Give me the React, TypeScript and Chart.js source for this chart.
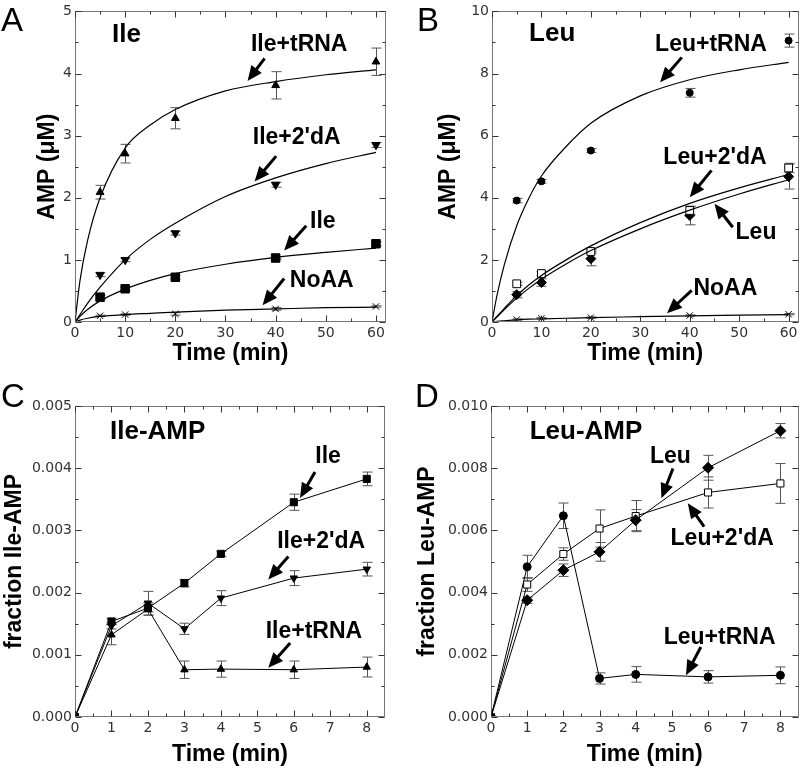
import React, { useEffect, useRef } from 'react';
import { Chart, registerables } from 'chart.js';
Chart.register(...registerables);

// ---------- Panel A (Ile, AMP µM vs time) ----------
const timeA = [5, 10, 20, 40, 60];
const ileTrnaA = [2.09, 2.71, 3.28, 3.81, 4.19];
const ileTrnaAErr = [0.11, 0.15, 0.17, 0.22, 0.22];
const ile2dAA = [0.76, 1.0, 1.43, 2.21, 2.85];
const ile2dAAErr = [0.03, 0.03, 0.03, 0.04, 0.04];
const ileA = [0.4, 0.535, 0.72, 1.03, 1.26];
const ileAErr = [0.03, 0.03, 0.03, 0.02, 0.03];
const noaaA = [0.1, 0.12, 0.13, 0.21, 0.25];
const noaaAErr = [0.01, 0.01, 0.02, 0.02, 0.01];
const fitTimeA = [0, 1, 2.5, 5, 10, 15, 20, 30, 40, 50, 60];
const fitIleTrnaA = [0, 0.67, 1.31, 2.0, 2.8, 3.17, 3.42, 3.72, 3.87, 3.98, 4.06];
const fitIle2dAA = [0, 0.12, 0.3, 0.56, 1.0, 1.33, 1.59, 2.02, 2.32, 2.55, 2.73];
const fitIleA = [0, 0.09, 0.2, 0.34, 0.53, 0.67, 0.78, 0.93, 1.04, 1.12, 1.19];
const fitNoaaA = [0, 0.03, 0.06, 0.09, 0.12, 0.14, 0.16, 0.19, 0.21, 0.23, 0.24];
const xTicksA = [0, 10, 20, 30, 40, 50, 60];
const yTicksA = [0, 1, 2, 3, 4, 5];

// ---------- Panel B (Leu, AMP µM vs time) ----------
const timeB = [5, 10, 20, 40, 60];
const leuTrnaB = [3.91, 4.53, 5.52, 7.38, 9.06];
const leuTrnaBErr = [0.07, 0.06, 0.06, 0.14, 0.21];
const leu2dAB = [1.23, 1.56, 2.27, 3.59, 4.96];
const leu2dABErr = [0.05, 0.06, 0.06, 0.12, 0.15];
const leuB = [0.88, 1.27, 2.04, 3.43, 4.68];
const leuBErr = [0.1, 0.12, 0.23, 0.3, 0.4];
const noaaB = [0.08, 0.12, 0.14, 0.21, 0.25];
const noaaBErr = [0.02, 0.02, 0.02, 0.02, 0.02];
const fitTimeB = [0, 1, 2.5, 5, 7.5, 10, 15, 20, 30, 40, 50, 60];
const fitLeuTrnaB = [0, 0.85, 1.85, 3.1, 4.0, 4.7, 5.65, 6.4, 7.28, 7.8, 8.12, 8.36];
const fitLeu2dAB = [0, 0.18, 0.44, 0.85, 1.2, 1.5, 2.0, 2.45, 3.2, 3.82, 4.32, 4.75];
const fitLeuB = [0, 0.16, 0.4, 0.77, 1.09, 1.38, 1.87, 2.3, 3.0, 3.6, 4.12, 4.58];
const fitNoaaB = [0, 0.02, 0.04, 0.07, 0.09, 0.1, 0.12, 0.14, 0.17, 0.2, 0.22, 0.24];
const xTicksB = [0, 10, 20, 30, 40, 50, 60];
const yTicksB = [0, 2, 4, 6, 8, 10];

// ---------- Panel C (Ile-AMP fraction) ----------
const timeC = [0, 1, 2, 3, 4, 6, 8];
const ileC = [0, 0.001536, 0.00175, 0.002152, 0.002623, 0.003453, 0.003828];
const ileCErr = [0, 0.00005, 0.00006, 0.00006, 0.00004, 0.00013, 0.00011];
const ile2dAC = [0, 0.001466, 0.00183, 0.001418, 0.001911, 0.002233, 0.002377];
const ile2dACErr = [0, 0.00005, 0.00019, 0.00009, 0.00012, 0.00012, 0.00011];
const ileTrnaC = [0, 0.001322, 0.001735, 0.00076, 0.00077, 0.00076, 0.000803];
const ileTrnaCErr = [0, 0.00016, 0.0001, 0.00014, 0.00013, 0.00014, 0.00016];
const xTicksC = [0, 1, 2, 3, 4, 5, 6, 7, 8];
const yTicksC = [0, 0.001, 0.002, 0.003, 0.004, 0.005];

// ---------- Panel D (Leu-AMP fraction) ----------
const timeD = [0, 1, 2, 3, 4, 6, 8];
const leuD = [0, 0.003756, 0.00472, 0.00531, 0.00633, 0.008014, 0.009205];
const leuDErr = [0, 0.0001, 0.0002, 0.0003, 0.00034, 0.0004, 0.00023];
const leu2dAD = [0, 0.00426, 0.00524, 0.00606, 0.00646, 0.00722, 0.00751];
const leu2dADErr = [0, 0.00022, 0.0002, 0.0006, 0.0005, 0.0005, 0.00064];
const leuTrnaD = [0, 0.00483, 0.00647, 0.00124, 0.00137, 0.00129, 0.00134];
const leuTrnaDErr = [0, 0.00037, 0.00041, 0.00018, 0.00025, 0.0002, 0.00027];
const xTicksD = [0, 1, 2, 3, 4, 5, 6, 7, 8];
const yTicksD = [0, 0.002, 0.004, 0.006, 0.008, 0.01];

type Ann = { text: string; at: [number, number]; tail: [number, number]; head: [number, number] };

const annA: Ann[] = [
  { text: 'Ile+tRNA', at: [44.7, 4.36], tail: [37.8, 4.245], head: [34.4, 3.88] },
  { text: "Ile+2'dA", at: [44.2, 2.87], tail: [40.1, 2.67], head: [35.8, 2.26] },
  { text: 'Ile', at: [49.4, 1.52], tail: [46.1, 1.55], head: [41.7, 1.15] },
  { text: 'NoAA', at: [49.2, 0.56], tail: [41.7, 0.7], head: [37.4, 0.27] },
];
const annB: Ann[] = [
  { text: 'Leu+tRNA', at: [44.3, 8.74], tail: [38.4, 8.52], head: [34.0, 7.72] },
  { text: "Leu+2'dA", at: [45.1, 5.09], tail: [44.4, 4.88], head: [40.0, 4.02] },
  { text: 'Leu', at: [53.4, 2.68], tail: [48.7, 3.05], head: [45.0, 3.81] },
  { text: 'NoAA', at: [47.2, 0.86], tail: [40.4, 1.02], head: [35.4, 0.28] },
];
const annC: Ann[] = [
  { text: 'Ile', at: [6.94, 0.00408], tail: [6.58, 0.00394], head: [6.17, 0.00352] },
  { text: "Ile+2'dA", at: [6.75, 0.00271], tail: [5.85, 0.00258], head: [5.3, 0.00221] },
  { text: 'Ile+tRNA', at: [6.55, 0.00127], tail: [5.9, 0.00119], head: [5.3, 0.00079] },
];
const annD: Ann[] = [
  { text: 'Leu', at: [4.96, 0.00816], tail: [5.03, 0.00799], head: [4.71, 0.00703] },
  { text: "Leu+2'dA", at: [6.39, 0.00553], tail: [5.89, 0.00612], head: [5.44, 0.00687] },
  { text: 'Leu+tRNA', at: [6.32, 0.00236], tail: [5.8, 0.00225], head: [5.39, 0.00134] },
];

const pts = (xs: number[], ys: number[]) => xs.map((x, i) => ({ x, y: ys[i] }));

const fit = (xs: number[], ys: number[]) => ({
  data: pts(xs, ys), showLine: true, pointRadius: 0, borderColor: '#000', borderWidth: 1.2,
  cubicInterpolationMode: 'monotone', fill: false,
});
const marks = (xs: number[], ys: number[], errs: number[], style: string, r: number, opts: any = {}) => ({
  data: pts(xs, ys), errors: errs, showLine: false, pointStyle: style, pointRadius: r,
  pointBackgroundColor: '#000', pointBorderColor: '#000', pointBorderWidth: 1, ...opts,
});
const series = (xs: number[], ys: number[], errs: number[], style: string, r: number, opts: any = {}) => ({
  ...marks(xs, ys, errs, style, r, opts), showLine: true, borderColor: '#000', borderWidth: 1, tension: 0,
});

const FONT_B = "'Liberation Sans', Arial, sans-serif";

const panels = [
  {
    key: 'A', letter: 'A', letterPos: [1, 31], title: 'Ile', titleAt: [7.4, 4.51],
    left: 0, top: 0, width: 400, height: 380,
    padding: { left: 0, right: 14, top: 10, bottom: 0 }, yWidth: 75, xHeight: 58,
    xMax: 62, yMax: 5, xTicks: xTicksA, yTicks: yTicksA, yDec: 0,
    yTitle: 'AMP (μM)', yTitlePad: 36, xTitlePad: 15, ann: annA,
    datasets: [
      fit(fitTimeA, fitIleTrnaA), fit(fitTimeA, fitIle2dAA), fit(fitTimeA, fitIleA), fit(fitTimeA, fitNoaaA),
      marks(timeA, ileTrnaA, ileTrnaAErr, 'triangle', 4.5),
      marks(timeA, ile2dAA, ile2dAAErr, 'triangle', 4.8, { rotation: 180 }),
      marks(timeA, ileA, ileAErr, 'rect', 6),
      marks(timeA, noaaA, noaaAErr, 'crossRot', 4.5),
    ],
  },
  {
    key: 'B', letter: 'B', letterPos: [17, 31], title: 'Leu', titleAt: [7.5, 9.06],
    left: 400, top: 0, width: 405, height: 380,
    padding: { left: 0, right: 2, top: 11, bottom: 0 }, yWidth: 92, xHeight: 58,
    xMax: 62, yMax: 10, xTicks: xTicksB, yTicks: yTicksB, yDec: 0,
    yTitle: 'AMP (μM)', yTitlePad: 37.5, xTitlePad: 15, ann: annB,
    datasets: [
      fit(fitTimeB, fitLeuTrnaB), fit(fitTimeB, fitLeu2dAB), fit(fitTimeB, fitLeuB), fit(fitTimeB, fitNoaaB),
      marks(timeB, leuTrnaB, leuTrnaBErr, 'circle', 3.5),
      marks(timeB, leu2dAB, leu2dABErr, 'rect', 5.5, { pointBackgroundColor: '#fff' }),
      marks(timeB, leuB, leuBErr, 'rectRot', 5),
      marks(timeB, noaaB, noaaBErr, 'crossRot', 4.5),
    ],
  },
  {
    key: 'C', letter: 'C', letterPos: [1, 27], title: 'Ile-AMP', titleAt: [0.96, 0.004465],
    left: 0, top: 380, width: 400, height: 389,
    padding: { left: 0, right: 15, top: 26, bottom: 0 }, yWidth: 75, xHeight: 52,
    xMax: 8.5, yMax: 0.005, xTicks: xTicksC, yTicks: yTicksC, yDec: 3,
    yTitle: 'fraction Ile-AMP', yTitlePad: 3.5, xTitlePad: 2.5, ann: annC,
    datasets: [
      series(timeC, ileC, ileCErr, 'rect', 5),
      series(timeC, ile2dAC, ile2dACErr, 'triangle', 4.3, { rotation: 180 }),
      series(timeC, ileTrnaC, ileTrnaCErr, 'triangle', 4.3),
    ],
  },
  {
    key: 'D', letter: 'D', letterPos: [15, 27], title: 'Leu-AMP', titleAt: [1.07, 0.00893],
    left: 400, top: 380, width: 405, height: 389,
    padding: { left: 0, right: 4, top: 26, bottom: 0 }, yWidth: 91, xHeight: 52,
    xMax: 8.5, yMax: 0.01, xTicks: xTicksD, yTicks: yTicksD, yDec: 3,
    yTitle: 'fraction Leu-AMP', yTitlePad: 16, xTitlePad: 2.5, ann: annD,
    datasets: [
      series(timeD, leuD, leuDErr, 'rectRot', 5.5),
      series(timeD, leu2dAD, leu2dADErr, 'rect', 5, { pointBackgroundColor: '#fff' }),
      series(timeD, leuTrnaD, leuTrnaDErr, 'circle', 4),
    ],
  },
];

function drawArrow(ctx: CanvasRenderingContext2D, x1: number, y1: number, x2: number, y2: number) {
  const ang = Math.atan2(y2 - y1, x2 - x1);
  const hl = 15, hw = 6.5;
  const bx = x2 - hl * Math.cos(ang), by = y2 - hl * Math.sin(ang);
  ctx.strokeStyle = '#000';
  ctx.fillStyle = '#000';
  ctx.lineWidth = 3;
  ctx.beginPath();
  ctx.moveTo(x1, y1);
  ctx.lineTo(bx + Math.cos(ang), by + Math.sin(ang));
  ctx.stroke();
  ctx.beginPath();
  ctx.moveTo(x2, y2);
  ctx.lineTo(bx + hw * Math.sin(ang), by - hw * Math.cos(ang));
  ctx.lineTo(bx - hw * Math.sin(ang), by + hw * Math.cos(ang));
  ctx.closePath();
  ctx.fill();
}

function makePlugin(cfg: any) {
  return {
    id: 'decor' + cfg.key,
    beforeDatasetsDraw(chart: any) {
      const { ctx, scales: { x, y } } = chart;
      ctx.save();
      ctx.strokeStyle = '#555';
      ctx.lineWidth = 1;
      chart.data.datasets.forEach((ds: any) => {
        if (!ds.errors) return;
        ds.data.forEach((p: any, j: number) => {
          const e = ds.errors[j];
          if (!e) return;
          const px = Math.round(x.getPixelForValue(p.x)) + 0.5;
          const y1 = y.getPixelForValue(p.y + e);
          const y2 = y.getPixelForValue(p.y - e);
          const cap = 5;
          ctx.beginPath();
          ctx.moveTo(px, y1); ctx.lineTo(px, y2);
          ctx.moveTo(px - cap, y1); ctx.lineTo(px + cap, y1);
          ctx.moveTo(px - cap, y2); ctx.lineTo(px + cap, y2);
          ctx.stroke();
        });
      });
      ctx.restore();
    },
    afterDraw(chart: any) {
      const { ctx, chartArea: a, scales: { x, y } } = chart;
      ctx.save();
      // frame
      ctx.strokeStyle = '#777';
      ctx.lineWidth = 1;
      const L = Math.round(a.left) + 0.5, R = Math.round(a.right) - 0.5;
      const T = Math.round(a.top) + 0.5, B = Math.round(a.bottom) - 0.5;
      ctx.strokeRect(L, T, R - L, B - T);
      // inward ticks (major + minor)
      ctx.strokeStyle = '#333';
      const xt: number[] = cfg.xTicks, yt: number[] = cfg.yTicks;
      const xs = xt[1] - xt[0], ys = yt[1] - yt[0];
      ctx.beginPath();
      xt.forEach((v: number) => {
        const px = Math.round(x.getPixelForValue(v)) + 0.5;
        ctx.moveTo(px, B); ctx.lineTo(px, B - 6);
        ctx.moveTo(px, T); ctx.lineTo(px, T + 6);
        const m = v + xs / 2;
        if (m < cfg.xMax - 1e-9) {
          const pm = Math.round(x.getPixelForValue(m)) + 0.5;
          ctx.moveTo(pm, B); ctx.lineTo(pm, B - 3);
          ctx.moveTo(pm, T); ctx.lineTo(pm, T + 3);
        }
      });
      yt.forEach((v: number) => {
        const py = Math.round(y.getPixelForValue(v)) + 0.5;
        ctx.moveTo(L, py); ctx.lineTo(L + 6, py);
        ctx.moveTo(R, py); ctx.lineTo(R - 6, py);
        const m = v + ys / 2;
        if (m < cfg.yMax - 1e-12) {
          const pm = Math.round(y.getPixelForValue(m)) + 0.5;
          ctx.moveTo(L, pm); ctx.lineTo(L + 3, pm);
          ctx.moveTo(R, pm); ctx.lineTo(R - 3, pm);
        }
      });
      ctx.stroke();
      // annotations
      ctx.fillStyle = '#000';
      ctx.font = `bold 23px ${FONT_B}`;
      ctx.textAlign = 'center';
      ctx.textBaseline = 'alphabetic';
      cfg.ann.forEach((an: Ann) => {
        ctx.fillText(an.text, x.getPixelForValue(an.at[0]), y.getPixelForValue(an.at[1]));
        drawArrow(ctx, x.getPixelForValue(an.tail[0]), y.getPixelForValue(an.tail[1]),
          x.getPixelForValue(an.head[0]), y.getPixelForValue(an.head[1]));
      });
      // panel title
      ctx.font = `bold 26px ${FONT_B}`;
      ctx.textAlign = 'left';
      ctx.fillText(cfg.title, x.getPixelForValue(cfg.titleAt[0]), y.getPixelForValue(cfg.titleAt[1]));
      // panel letter
      ctx.font = `33px ${FONT_B}`;
      ctx.fillText(cfg.letter, cfg.letterPos[0], cfg.letterPos[1]);
      ctx.restore();
    },
  };
}

function Panel({ cfg }: { cfg: any }) {
  const ref = useRef<HTMLCanvasElement>(null);
  useEffect(() => {
    if (!ref.current) return;
    const tickFont = { family: "'DejaVu Sans', sans-serif", size: 14 };
    const titleFont = { family: FONT_B, weight: 'bold' as const, size: 23, lineHeight: 1 };
    const chart = new Chart(ref.current, {
      type: 'scatter',
      data: { datasets: cfg.datasets },
      options: {
        responsive: false,
        maintainAspectRatio: false,
        animation: false,
        devicePixelRatio: 1,
        layout: { padding: cfg.padding },
        plugins: { legend: { display: false }, tooltip: { enabled: false } },
        scales: {
          x: {
            type: 'linear', min: 0, max: cfg.xMax,
            afterBuildTicks: (s: any) => { s.ticks = cfg.xTicks.map((v: number) => ({ value: v })); },
            afterFit: (s: any) => { s.height = cfg.xHeight; },
            grid: { display: false, drawTicks: false },
            border: { display: false },
            ticks: { padding: 3, color: '#333', font: tickFont, maxRotation: 0, autoSkip: false, callback: (v: any) => String(v) },
            title: { display: true, text: 'Time (min)', color: '#000', font: titleFont, padding: { top: 0, bottom: cfg.xTitlePad } },
          },
          y: {
            type: 'linear', min: 0, max: cfg.yMax,
            afterBuildTicks: (s: any) => { s.ticks = cfg.yTicks.map((v: number) => ({ value: v })); },
            afterFit: (s: any) => { s.width = cfg.yWidth; },
            grid: { display: false, drawTicks: false },
            border: { display: false },
            ticks: { padding: 3, color: '#333', font: tickFont, autoSkip: false, callback: (v: any) => Number(v).toFixed(cfg.yDec) },
            title: { display: true, text: cfg.yTitle, color: '#000', font: titleFont, padding: { top: cfg.yTitlePad, bottom: 0 } },
          },
        },
      } as any,
      plugins: [makePlugin(cfg)],
    });
    return () => chart.destroy();
  }, [cfg]);
  return (
    <div style={{ position: 'absolute', left: cfg.left, top: cfg.top, width: cfg.width, height: cfg.height }}>
      <canvas ref={ref} width={cfg.width} height={cfg.height} style={{ display: 'block' }} />
    </div>
  );
}

export default function App() {
  return (
    <div style={{ position: 'absolute', left: 0, top: 0, width: 805, height: 769, background: '#fff' }}>
      {panels.map((p) => <Panel key={p.key} cfg={p} />)}
    </div>
  );
}
